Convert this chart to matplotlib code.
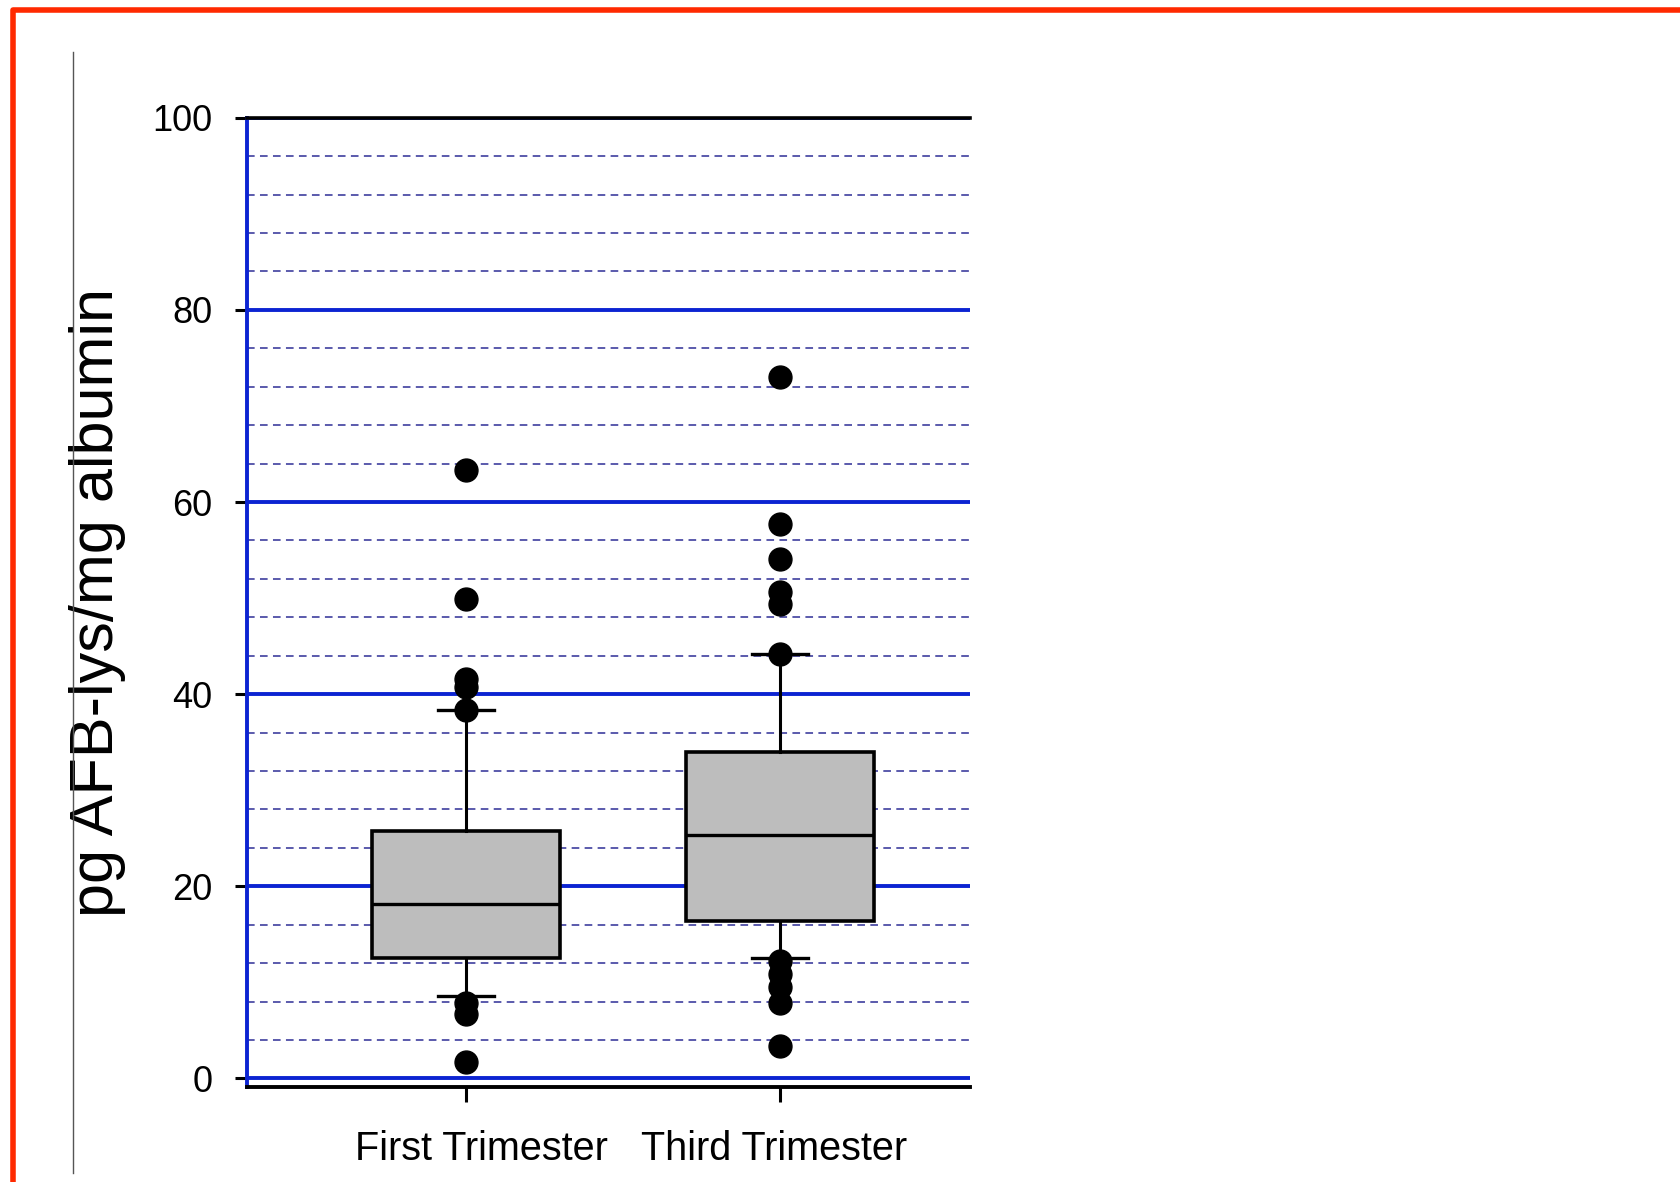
import matplotlib
matplotlib.use("Agg")
import matplotlib.pyplot as plt
from matplotlib.lines import Line2D
from matplotlib.ticker import MultipleLocator
import matplotlib.transforms as mtransforms

plt.rcParams['font.family'] = ['Liberation Sans', 'DejaVu Sans']

# ---- data ----
categories = ["First Trimester", "Third Trimester"]
q1 = [12.5, 16.4]
medians = [18.2, 25.3]
q3 = [25.8, 34.0]
whisker_low = [8.6, 12.5]
whisker_high = [38.3, 44.2]
fliers_first = [63.3, 49.9, 41.6, 40.7, 38.3, 7.8, 6.7, 1.7]
fliers_third = [73.0, 57.7, 54.1, 50.6, 49.4, 44.2, 12.2, 10.9, 9.5, 7.8, 3.4]
yticks = [0, 20, 40, 60, 80, 100]

W, H = 1681, 1182
fig = plt.figure(figsize=(W / 100, H / 100), dpi=100)
fig.patch.set_facecolor("white")

left, right = 247 / W, 970 / W
top, bottom = 1 - 117.8 / H, 1 - 1087 / H
ax = fig.add_axes([left, bottom, right - left, top - bottom])

stats = []
for i, lab in enumerate(categories):
    stats.append(dict(label=lab, med=medians[i], q1=q1[i], q3=q3[i],
                      whislo=whisker_low[i], whishi=whisker_high[i],
                      fliers=[fliers_first, fliers_third][i]))

blue = "#0c24d2"
ax.yaxis.set_major_locator(MultipleLocator(20))
ax.yaxis.set_minor_locator(MultipleLocator(4))
ax.grid(True, which="major", axis="y", color=blue, linewidth=2.8, zorder=0)
ax.grid(True, which="minor", axis="y", color="#2e2e96", linewidth=1.1,
        linestyle=(0, (5, 3.5)), zorder=0)
ax.set_axisbelow(True)

ax.bxp(stats, positions=[1, 2], widths=0.6, capwidths=0.18, patch_artist=True,
       boxprops=dict(facecolor="#bdbdbd", edgecolor="black", linewidth=2.6),
       medianprops=dict(color="black", linewidth=2.4),
       whiskerprops=dict(color="black", linewidth=2.2),
       capprops=dict(color="black", linewidth=2.4),
       flierprops=dict(marker="o", markerfacecolor="black", markeredgecolor="black",
                       markersize=16.5, linestyle="none"),
       zorder=3)

ax.set_xlim(0.3035, 2.605)
ax.set_ylim(-0.9, 100)
ax.set_yticks(yticks)
ax.set_yticklabels([str(t) for t in yticks], fontsize=26)
ax.set_xticks([1, 2])
ax.set_xticklabels(categories, fontsize=28.5)

ax.spines["right"].set_visible(False)
ax.spines["left"].set_color(blue)
ax.spines["left"].set_linewidth(2.8)
ax.spines["top"].set_color("black")
ax.spines["top"].set_linewidth(2.6)
ax.spines["bottom"].set_color("black")
ax.spines["bottom"].set_linewidth(2.8)

ax.tick_params(axis="y", which="major", direction="out", length=9, width=2.2,
               color="black", pad=16)
ax.tick_params(axis="y", which="minor", length=0)
ax.tick_params(axis="x", direction="out", length=11, width=2.2, color="black", pad=20)

x_offsets_in = [0.16, -0.06]
for lbl, dx in zip(ax.get_xticklabels(), x_offsets_in):
    lbl.set_transform(lbl.get_transform() +
                      mtransforms.ScaledTranslation(dx, 0, fig.dpi_scale_trans))

ax.set_ylabel("pg AFB-lys/mg albumin", fontsize=44)
ax.yaxis.set_label_coords((126 - 247) / 723, 0.5)

# slide decorations
fig.add_artist(Line2D([73 / W, 73 / W], [1 - 52 / H, 1 - 1173 / H], color="#555555",
                      linewidth=1.0))
fig.add_artist(Line2D([13 / W, 13 / W, 1.0], [0.0, 1 - 10 / H, 1 - 10 / H],
                      color="#ff2a00", linewidth=4))

fig.savefig("out.png", dpi=100, facecolor="white")
